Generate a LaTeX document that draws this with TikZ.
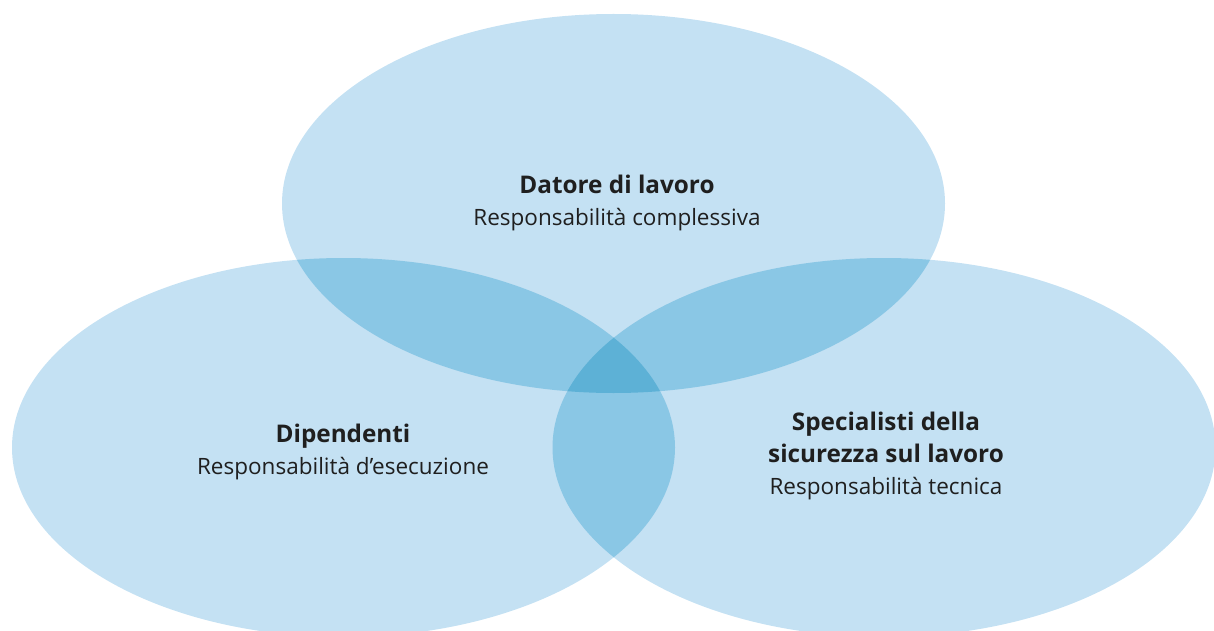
\documentclass[tikz,border=0pt]{standalone}
\usepackage{fontspec}
\setmainfont{Open Sans}
\definecolor{vlight}{HTML}{C4E1F3}
\definecolor{vmid}{HTML}{8AC7E5}
\definecolor{vdark}{HTML}{5DB1D6}
\newcommand{\hd}[1]{{\fontsize{24.3}{32}\selectfont\bfseries #1}}
\begin{document}
\begin{tikzpicture}[x=1pt,y=-1pt,
  lbl/.style={align=center,text=black!88,font=\fontsize{22.5}{32}\selectfont,inner sep=0pt}]
\useasboundingbox (0,0) rectangle (1214,631);
\coordinate (T) at (613.5,203.5);
\coordinate (L) at (343.5,447.5);
\coordinate (R) at (884,447.5);
\def\rx{331.5}\def\ry{189.5}
\fill[vlight] (T) ellipse [x radius=\rx, y radius=\ry];
\fill[vlight] (L) ellipse [x radius=\rx, y radius=\ry];
\fill[vlight] (R) ellipse [x radius=\rx, y radius=\ry];
\begin{scope}
  \clip (T) ellipse [x radius=\rx, y radius=\ry];
  \fill[vmid] (L) ellipse [x radius=\rx, y radius=\ry];
  \fill[vmid] (R) ellipse [x radius=\rx, y radius=\ry];
\end{scope}
\begin{scope}
  \clip (L) ellipse [x radius=\rx, y radius=\ry];
  \fill[vmid] (R) ellipse [x radius=\rx, y radius=\ry];
\end{scope}
\begin{scope}
  \clip (T) ellipse [x radius=\rx, y radius=\ry];
  \clip (L) ellipse [x radius=\rx, y radius=\ry];
  \fill[vdark] (R) ellipse [x radius=\rx, y radius=\ry];
\end{scope}
\node[lbl] (tl) at (617,203) {\hd{Datore di lavoro}\\Responsabilità complessiva};
\node[lbl] (ll) at (343,452) {\hd{Dipendenti}\\Responsabilità d’esecuzione};
\node[lbl] (rl) at (886,456) {\hd{Specialisti della}\\\hd{sicurezza sul lavoro}\\Responsabilità tecnica};
\end{tikzpicture}
\end{document}
